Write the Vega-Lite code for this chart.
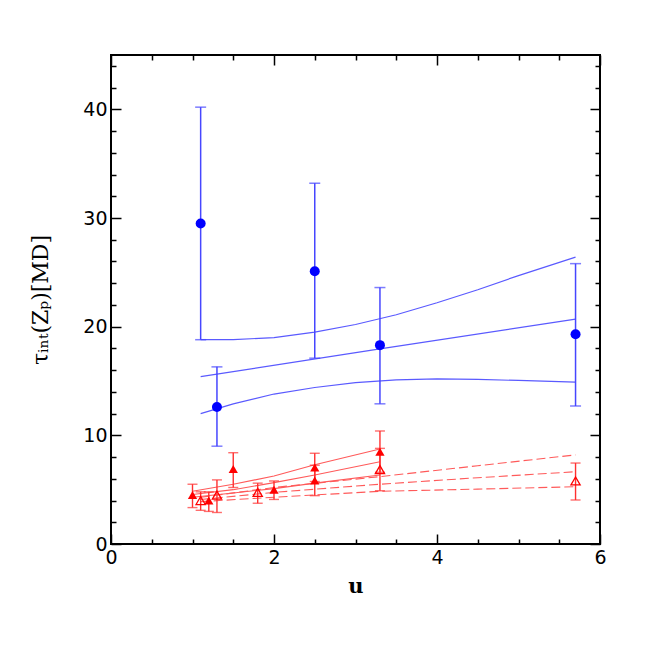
{
  "$schema": "https://vega.github.io/schema/vega-lite/v6.json",
  "width": 489,
  "height": 489,
  "autosize": {"type": "none"},
  "padding": {"left": 111, "top": 55, "right": 54, "bottom": 110},
  "background": "white",
  "config": {
    "view": {"stroke": "black", "strokeWidth": 2},
    "axis": {
      "domain": false,
      "grid": false,
      "tickColor": "black",
      "tickWidth": 1.5,
      "labelFont": "DejaVu Sans",
      "labelFontSize": 19,
      "labelColor": "black",
      "labelFlush": false,
      "titleFont": "DejaVu Serif",
      "titleFontSize": 21,
      "titleFontWeight": "normal",
      "titleColor": "black",
      "labelOverlap": false,
      "format": "~g"
    }
  },
  "datasets": {
    "blueCurves": [
      {"curve": "upper", "u": 1.1, "tau": 18.8},
      {"curve": "upper", "u": 1.5, "tau": 18.8},
      {"curve": "upper", "u": 2.0, "tau": 19.0},
      {"curve": "upper", "u": 2.5, "tau": 19.5},
      {"curve": "upper", "u": 3.0, "tau": 20.2},
      {"curve": "upper", "u": 3.5, "tau": 21.1},
      {"curve": "upper", "u": 4.0, "tau": 22.2},
      {"curve": "upper", "u": 4.5, "tau": 23.4},
      {"curve": "upper", "u": 5.0, "tau": 24.7},
      {"curve": "upper", "u": 5.7, "tau": 26.4},
      {"curve": "middle", "u": 1.1, "tau": 15.4},
      {"curve": "middle", "u": 3.3, "tau": 17.95},
      {"curve": "middle", "u": 5.7, "tau": 20.7},
      {"curve": "lower", "u": 1.1, "tau": 12.0},
      {"curve": "lower", "u": 1.5, "tau": 12.9},
      {"curve": "lower", "u": 2.0, "tau": 13.8},
      {"curve": "lower", "u": 2.5, "tau": 14.4},
      {"curve": "lower", "u": 3.0, "tau": 14.85},
      {"curve": "lower", "u": 3.5, "tau": 15.1},
      {"curve": "lower", "u": 4.0, "tau": 15.2},
      {"curve": "lower", "u": 4.5, "tau": 15.15},
      {"curve": "lower", "u": 5.0, "tau": 15.05},
      {"curve": "lower", "u": 5.7, "tau": 14.9}
    ],
    "bluePoints": [
      {"u": 1.1, "tau": 29.5, "lo": 18.8, "hi": 40.2},
      {"u": 1.3, "tau": 12.6, "lo": 9.0, "hi": 16.3},
      {"u": 2.5, "tau": 25.1, "lo": 17.1, "hi": 33.2},
      {"u": 3.3, "tau": 18.3, "lo": 12.9, "hi": 23.6},
      {"u": 5.7, "tau": 19.3, "lo": 12.7, "hi": 25.8}
    ],
    "redSolid": [
      {"curve": "top", "u": 1.0, "tau": 4.85},
      {"curve": "top", "u": 1.5, "tau": 5.5},
      {"curve": "top", "u": 2.0, "tau": 6.25},
      {"curve": "top", "u": 2.5, "tau": 7.3},
      {"curve": "top", "u": 3.3, "tau": 8.75},
      {"curve": "mid", "u": 1.0, "tau": 4.55},
      {"curve": "mid", "u": 1.5, "tau": 5.0},
      {"curve": "mid", "u": 2.0, "tau": 5.65},
      {"curve": "mid", "u": 2.5, "tau": 6.35},
      {"curve": "mid", "u": 3.3, "tau": 7.57},
      {"curve": "low", "u": 1.0, "tau": 4.3},
      {"curve": "low", "u": 1.5, "tau": 4.7},
      {"curve": "low", "u": 2.0, "tau": 5.1},
      {"curve": "low", "u": 2.5, "tau": 5.6},
      {"curve": "low", "u": 3.3, "tau": 6.35}
    ],
    "redDashed": [
      {"curve": "top", "u": 1.1, "tau": 4.3},
      {"curve": "top", "u": 2.0, "tau": 5.2},
      {"curve": "top", "u": 3.3, "tau": 6.2},
      {"curve": "top", "u": 4.5, "tau": 7.2},
      {"curve": "top", "u": 5.7, "tau": 8.2},
      {"curve": "mid", "u": 1.1, "tau": 4.1},
      {"curve": "mid", "u": 2.0, "tau": 4.75},
      {"curve": "mid", "u": 3.3, "tau": 5.5},
      {"curve": "mid", "u": 4.5, "tau": 6.1},
      {"curve": "mid", "u": 5.7, "tau": 6.65},
      {"curve": "low", "u": 1.1, "tau": 3.9},
      {"curve": "low", "u": 2.0, "tau": 4.3},
      {"curve": "low", "u": 3.3, "tau": 4.85},
      {"curve": "low", "u": 4.5, "tau": 5.05},
      {"curve": "low", "u": 5.7, "tau": 5.27}
    ],
    "redPoints": [
      {"u": 1.0, "tau": 4.5, "lo": 3.35, "hi": 5.5, "kind": "filled"},
      {"u": 1.2, "tau": 4.0, "lo": 3.0, "hi": 4.8, "kind": "filled"},
      {"u": 1.5, "tau": 6.9, "lo": 5.2, "hi": 8.4, "kind": "filled"},
      {"u": 2.0, "tau": 5.0, "lo": 4.1, "hi": 5.8, "kind": "filled"},
      {"u": 2.5, "tau": 7.05, "lo": 5.75, "hi": 8.35, "kind": "filled"},
      {"u": 2.5, "tau": 5.85, "lo": 4.45, "hi": 7.25, "kind": "filled"},
      {"u": 3.3, "tau": 8.5, "lo": 6.6, "hi": 10.4, "kind": "filled"},
      {"u": 1.1, "tau": 4.0, "lo": 3.1, "hi": 4.8, "kind": "open"},
      {"u": 1.3, "tau": 4.5, "lo": 2.9, "hi": 5.9, "kind": "open"},
      {"u": 1.8, "tau": 4.75, "lo": 3.75, "hi": 5.6, "kind": "open"},
      {"u": 3.3, "tau": 6.85, "lo": 4.9, "hi": 8.8, "kind": "open"},
      {"u": 5.7, "tau": 5.8, "lo": 4.05, "hi": 7.45, "kind": "open"}
    ]
  },
  "resolve": {"axis": {"x": "independent", "y": "independent"}},
  "layer": [
    {
      "data": {"name": "blueCurves"},
      "mark": {"type": "line", "color": "#5a5aff", "strokeWidth": 1.2},
      "encoding": {
        "x": {
          "field": "u", "type": "quantitative",
          "scale": {"domain": [0, 6], "nice": false, "zero": false},
          "axis": {
            "orient": "bottom",
            "title": "u",
            "titleFontWeight": "bold",
            "values": [0, 0.5, 1, 1.5, 2, 2.5, 3, 3.5, 4, 4.5, 5, 5.5, 6],
            "labelExpr": "datum.value % 2 === 0 ? datum.label : ''",
            "tickSize": {"condition": {"test": "datum.value % 2 === 0", "value": -10}, "value": -5},
            "labelPadding": 14,
            "titlePadding": 3
          }
        },
        "y": {
          "field": "tau", "type": "quantitative",
          "scale": {"domain": [0, 45], "nice": false, "zero": false},
          "axis": {
            "orient": "left",
            "title": "τᵢₙₜ(Zₚ)[MD]",
            "titleFontSize": 22,
            "values": [0, 2, 4, 6, 8, 10, 12, 14, 16, 18, 20, 22, 24, 26, 28, 30, 32, 34, 36, 38, 40, 42, 44],
            "labelExpr": "datum.value % 10 === 0 ? datum.label : ''",
            "tickSize": {"condition": {"test": "datum.value % 10 === 0", "value": -10}, "value": -5},
            "labelPadding": 14,
            "titlePadding": 30
          }
        },
        "detail": {"field": "curve"}
      }
    },
    {
      "data": {"name": "redSolid"},
      "mark": {"type": "line", "color": "#ff5a5a", "strokeWidth": 1.1},
      "encoding": {
        "x": {
          "field": "u", "type": "quantitative",
          "scale": {"domain": [0, 6], "nice": false, "zero": false},
          "axis": {
            "orient": "top",
            "title": null,
            "labels": false,
            "values": [0, 0.5, 1, 1.5, 2, 2.5, 3, 3.5, 4, 4.5, 5, 5.5, 6],
            "tickSize": {"condition": {"test": "datum.value % 2 === 0", "value": -10}, "value": -5}
          }
        },
        "y": {
          "field": "tau", "type": "quantitative",
          "scale": {"domain": [0, 45], "nice": false, "zero": false},
          "axis": {
            "orient": "right",
            "title": null,
            "labels": false,
            "values": [0, 2, 4, 6, 8, 10, 12, 14, 16, 18, 20, 22, 24, 26, 28, 30, 32, 34, 36, 38, 40, 42, 44],
            "tickSize": {"condition": {"test": "datum.value % 10 === 0", "value": -10}, "value": -5}
          }
        },
        "detail": {"field": "curve"}
      }
    },
    {
      "data": {"name": "redDashed"},
      "mark": {"type": "line", "color": "#ff5a5a", "strokeWidth": 1.1, "strokeDash": [9, 4]},
      "encoding": {
        "x": {"field": "u", "type": "quantitative", "scale": {"domain": [0, 6], "nice": false, "zero": false}, "axis": null},
        "y": {"field": "tau", "type": "quantitative", "scale": {"domain": [0, 45], "nice": false, "zero": false}, "axis": null},
        "detail": {"field": "curve"}
      }
    },
    {
      "data": {"name": "bluePoints"},
      "mark": {"type": "rule", "color": "#4646ff", "strokeWidth": 1.5},
      "encoding": {
        "x": {"field": "u", "type": "quantitative", "scale": {"domain": [0, 6], "nice": false, "zero": false}, "axis": null},
        "y": {"field": "lo", "type": "quantitative", "scale": {"domain": [0, 45], "nice": false, "zero": false}, "axis": null},
        "y2": {"field": "hi"}
      }
    },
    {
      "data": {"name": "bluePoints"},
      "mark": {"type": "tick", "orient": "horizontal", "color": "#4646ff", "thickness": 1.5, "size": 11},
      "encoding": {
        "x": {"field": "u", "type": "quantitative", "scale": {"domain": [0, 6], "nice": false, "zero": false}, "axis": null},
        "y": {"field": "lo", "type": "quantitative", "scale": {"domain": [0, 45], "nice": false, "zero": false}, "axis": null}
      }
    },
    {
      "data": {"name": "bluePoints"},
      "mark": {"type": "tick", "orient": "horizontal", "color": "#4646ff", "thickness": 1.5, "size": 11},
      "encoding": {
        "x": {"field": "u", "type": "quantitative", "scale": {"domain": [0, 6], "nice": false, "zero": false}, "axis": null},
        "y": {"field": "hi", "type": "quantitative", "scale": {"domain": [0, 45], "nice": false, "zero": false}, "axis": null}
      }
    },
    {
      "data": {"name": "bluePoints"},
      "mark": {"type": "circle", "color": "#0000ff", "opacity": 1, "size": 100},
      "encoding": {
        "x": {"field": "u", "type": "quantitative", "scale": {"domain": [0, 6], "nice": false, "zero": false}, "axis": null},
        "y": {"field": "tau", "type": "quantitative", "scale": {"domain": [0, 45], "nice": false, "zero": false}, "axis": null}
      }
    },
    {
      "data": {"name": "redPoints"},
      "mark": {"type": "rule", "color": "#ff3030", "strokeWidth": 1.4},
      "encoding": {
        "x": {"field": "u", "type": "quantitative", "scale": {"domain": [0, 6], "nice": false, "zero": false}, "axis": null},
        "y": {"field": "lo", "type": "quantitative", "scale": {"domain": [0, 45], "nice": false, "zero": false}, "axis": null},
        "y2": {"field": "hi"}
      }
    },
    {
      "data": {"name": "redPoints"},
      "mark": {"type": "tick", "orient": "horizontal", "color": "#ff3030", "thickness": 1.4, "size": 10},
      "encoding": {
        "x": {"field": "u", "type": "quantitative", "scale": {"domain": [0, 6], "nice": false, "zero": false}, "axis": null},
        "y": {"field": "lo", "type": "quantitative", "scale": {"domain": [0, 45], "nice": false, "zero": false}, "axis": null}
      }
    },
    {
      "data": {"name": "redPoints"},
      "mark": {"type": "tick", "orient": "horizontal", "color": "#ff3030", "thickness": 1.4, "size": 10},
      "encoding": {
        "x": {"field": "u", "type": "quantitative", "scale": {"domain": [0, 6], "nice": false, "zero": false}, "axis": null},
        "y": {"field": "hi", "type": "quantitative", "scale": {"domain": [0, 45], "nice": false, "zero": false}, "axis": null}
      }
    },
    {
      "data": {"name": "redPoints"},
      "transform": [{"filter": "datum.kind === 'filled'"}],
      "mark": {"type": "point", "shape": "triangle-up", "filled": true, "color": "#ff0000", "opacity": 1, "size": 85},
      "encoding": {
        "x": {"field": "u", "type": "quantitative", "scale": {"domain": [0, 6], "nice": false, "zero": false}, "axis": null},
        "y": {"field": "tau", "type": "quantitative", "scale": {"domain": [0, 45], "nice": false, "zero": false}, "axis": null}
      }
    },
    {
      "data": {"name": "redPoints"},
      "transform": [{"filter": "datum.kind === 'open'"}],
      "mark": {"type": "point", "shape": "triangle-up", "filled": false, "color": "#ff0000", "fill": "white", "fillOpacity": 0, "opacity": 1, "strokeWidth": 1.3, "size": 85},
      "encoding": {
        "x": {"field": "u", "type": "quantitative", "scale": {"domain": [0, 6], "nice": false, "zero": false}, "axis": null},
        "y": {"field": "tau", "type": "quantitative", "scale": {"domain": [0, 45], "nice": false, "zero": false}, "axis": null}
      }
    }
  ]
}
